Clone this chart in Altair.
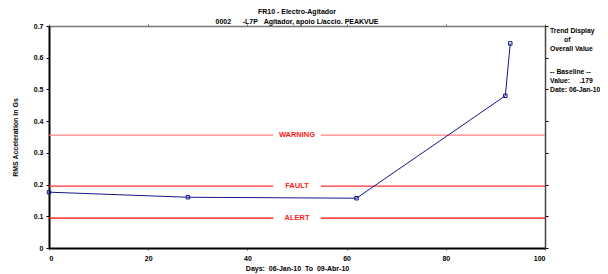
import altair as alt
import pandas as pd

days = [0, 28, 62, 92, 93]
rms = [0.176, 0.160, 0.157, 0.48, 0.645]

alarm_names = ["ALERT", "FAULT", "WARNING"]
alarm_levels = [0.094, 0.195, 0.356]
alarm_colors = ["#ff0000", "#ff3030", "#ff7f7f"]

x_ticks = [0, 20, 40, 60, 80, 100]
y_ticks = [0, 0.1, 0.2, 0.3, 0.4, 0.5, 0.6, 0.7]

NB = "\u00a0"
title_lines = ["FR10 - Electro-Agitador",
               "0002" + NB * 6 + "-L7P" + NB * 3 + "Agitador, apoio L/accio. PEAKVUE"]
side_lines = ["Trend Display", "of", "Overall Value", "", "-- Baseline --",
              "Value:" + NB * 5 + ".179", "Date:" + NB + "06-Jan-10"]
x_title = "Days:" + NB * 2 + "06-Jan-10" + NB * 2 + "To" + NB * 2 + "09-Abr-10"

FONT = "Liberation Sans"
W, H = 496, 222
label_center = 50
gap_half = 4.8

trend = pd.DataFrame({"day": days, "rms": rms})

seg_rows = []
for n, lv, c in zip(alarm_names, alarm_levels, alarm_colors):
    seg_rows.append({"name": n, "level": lv, "x0": 0, "x1": label_center - gap_half, "color": c})
    seg_rows.append({"name": n, "level": lv, "x0": label_center + gap_half, "x1": 100, "color": c})
segs = pd.DataFrame(seg_rows)
labels = pd.DataFrame({"name": alarm_names, "level": alarm_levels, "c": [label_center] * 3})

xs = alt.Scale(domain=[0, 100], nice=False)
ys = alt.Scale(domain=[0, 0.7], nice=False)

xaxis = alt.Axis(values=x_ticks, title=x_title, grid=False,
                 labelFont=FONT, labelFontSize=7, labelFontWeight="bold", labelColor="#000",
                 titleFont=FONT, titleFontSize=7, titleFontWeight="bold", titleColor="#000",
                 titlePadding=3, domainColor="#000", domainWidth=2, tickColor="#555",
                 tickSize=2, labelPadding=4)
yaxis = alt.Axis(values=y_ticks, title="RMS Acceleration in Gs", grid=False,
                 labelExpr="datum.value == 0 ? '0' : format(datum.value, '.1f')",
                 labelFont=FONT, labelFontSize=7, labelFontWeight="bold", labelColor="#000",
                 titleFont=FONT, titleFontSize=7, titleFontWeight="bold", titleColor="#000",
                 titlePadding=15, domainColor="#000", domainWidth=2, tickColor="#000",
                 tickSize=3, labelPadding=3)

segs_layer = alt.Chart(segs).mark_rule(strokeWidth=1.2).encode(
    x=alt.X("x0:Q", scale=xs, axis=xaxis),
    x2="x1:Q",
    y=alt.Y("level:Q", scale=ys, axis=yaxis),
    color=alt.Color("color:N", scale=None),
)

label_layer = alt.Chart(labels).mark_text(
    font=FONT, fontSize=7.5, fontWeight="bold", color="#ff2020", baseline="middle"
).encode(
    x=alt.X("c:Q", scale=xs, axis=None),
    y=alt.Y("level:Q", scale=ys, axis=None),
    text="name:N",
)

line_layer = alt.Chart(trend).mark_line(color="#14148a", strokeWidth=1).encode(
    x=alt.X("day:Q", scale=xs, axis=None),
    y=alt.Y("rms:Q", scale=ys, axis=None),
)
pt_layer = alt.Chart(trend).mark_point(shape="square", filled=False, color="#14148a",
                                       size=12, strokeWidth=1, opacity=1).encode(
    x=alt.X("day:Q", scale=xs, axis=None),
    y=alt.Y("rms:Q", scale=ys, axis=None),
)

mirror = alt.Chart(trend).mark_point(opacity=0).encode(
    x=alt.X("day:Q", scale=xs, axis=alt.Axis(orient="top", values=x_ticks, labels=False, title="",
                                             grid=False, domainColor="#777", tickColor="#555",
                                             tickSize=2, domainWidth=1.5)),
    y=alt.Y("rms:Q", scale=ys, axis=alt.Axis(orient="right", values=y_ticks, labels=False, title="",
                                             grid=False, domainColor="#444", tickColor="#000",
                                             tickSize=3, domainWidth=1.5)),
)

title_df = pd.DataFrame({"t": title_lines, "yy": [-14, -4.5]})
title_layer = alt.Chart(title_df).mark_text(
    font=FONT, fontSize=7, fontWeight="bold", color="#000", baseline="middle", align="center"
).encode(x=alt.value(W / 2), y=alt.Y("yy:Q", scale=None), text="t:N")

side_df = pd.DataFrame({"t": side_lines, "yy": [5, 14, 23, 37, 46, 55, 64],
                        "xx": [501, 515, 501, 504, 501, 501, 501]})
side_layer = alt.Chart(side_df).mark_text(
    font=FONT, fontSize=6.8, fontWeight="bold", color="#000", baseline="middle", align="left"
).encode(x=alt.X("xx:Q", scale=None), y=alt.Y("yy:Q", scale=None), text="t:N")

chart = alt.layer(
    segs_layer, label_layer, line_layer, pt_layer, mirror, title_layer, side_layer
).resolve_axis(x="independent", y="independent").properties(
    width=W, height=H,
    autosize=alt.AutoSizeParams(type="none"),
    padding={"left": 41, "top": 18, "right": 55, "bottom": 26},
    background="white",
).configure_view(stroke=None)

chart.save("out.html", embed_options={"renderer": "svg", "actions": False})
